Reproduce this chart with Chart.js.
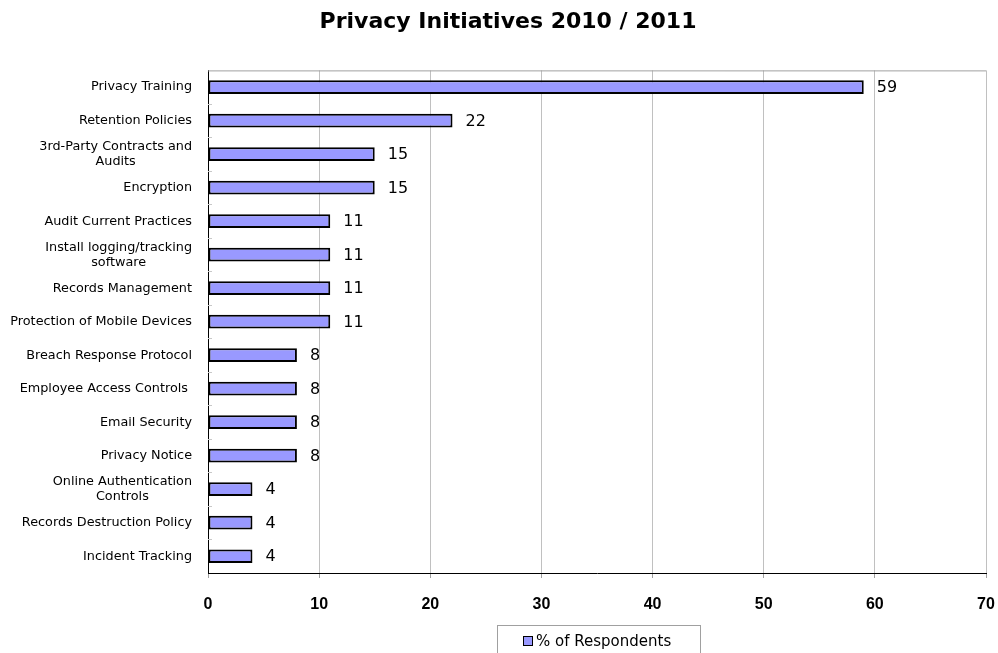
<!DOCTYPE html>
<html>
<head>
<meta charset="utf-8">
<script src="https://cdn.jsdelivr.net/npm/chart.js@4"></script>
<style>
  html, body { margin: 0; padding: 0; background: #fff; }
  canvas { display: block; }
</style>
</head>
<body>
<canvas id="chart" width="998" height="653"></canvas>
<script>
// Privacy initiatives - horizontal bar chart

const categories = [
  'Privacy Training',
  'Retention Policies',
  ['3rd-Party Contracts and', 'Audits'],
  'Encryption',
  'Audit Current Practices',
  ['Install logging/tracking', 'software'],
  'Records Management',
  'Protection of Mobile Devices',
  'Breach Response Protocol',
  'Employee Access Controls ',
  'Email Security',
  'Privacy Notice',
  ['Online Authentication', 'Controls'],
  'Records Destruction Policy',
  'Incident Tracking'
];
const respondents = [59, 22, 15, 15, 11, 11, 11, 11, 8, 8, 8, 8, 4, 4, 4];
const xTickValues = [0, 10, 20, 30, 40, 50, 60, 70];
const seriesName = '% of Respondents';

const barColor = '#9999FF';
const labelFont = '12.8px "DejaVu Sans", Verdana, sans-serif';

// category labels, lines centred on each other like the original
const categoryLabels = {
  id: 'categoryLabels',
  afterDraw(chart) {
    const { ctx } = chart;
    const yScale = chart.scales.y;
    const right = chart.chartArea.left - 16;
    ctx.save();
    ctx.font = labelFont;
    ctx.fillStyle = '#000';
    ctx.textAlign = 'center';
    ctx.textBaseline = 'middle';
    categories.forEach((label, i) => {
      const lines = Array.isArray(label) ? label : [label];
      const w = Math.max(...lines.map(l => ctx.measureText(l).width));
      const cx = right - w / 2;
      const y = yScale.getPixelForValue(i);
      const lh = 15;
      lines.forEach((line, j) => {
        ctx.fillText(line, cx, y + (j - (lines.length - 1) / 2) * lh);
      });
    });
    ctx.restore();
  }
};

// frame top edge and small inside ticks on the category axis
const plotFrame = {
  id: 'plotFrame',
  beforeDatasetsDraw(chart) {
    const { ctx, chartArea } = chart;
    const yScale = chart.scales.y;
    ctx.save();
    ctx.strokeStyle = '#A0A0A0';
    ctx.lineWidth = 1;
    ctx.beginPath();
    ctx.moveTo(chartArea.left, chartArea.top + 0.5);
    ctx.lineTo(chartArea.right, chartArea.top + 0.5);
    ctx.stroke();
    ctx.strokeStyle = '#C8C8C8';
    ctx.beginPath();
    for (let i = 1; i < categories.length; i++) {
      const y = Math.round((yScale.getPixelForValue(i - 1) + yScale.getPixelForValue(i)) / 2) + 0.5;
      ctx.moveTo(chartArea.left, y);
      ctx.lineTo(chartArea.left + 4, y);
    }
    ctx.stroke();
    ctx.restore();
  }
};

const valueLabels = {
  id: 'valueLabels',
  afterDatasetsDraw(chart) {
    const { ctx } = chart;
    const meta = chart.getDatasetMeta(0);
    ctx.save();
    ctx.font = '16px "DejaVu Sans", Verdana, sans-serif';
    ctx.fillStyle = '#000';
    ctx.textAlign = 'left';
    ctx.textBaseline = 'middle';
    meta.data.forEach((bar, i) => {
      ctx.fillText(respondents[i], bar.x + 13, bar.y + 1);
    });
    ctx.restore();
  }
};

const boxedLegend = {
  id: 'boxedLegend',
  afterDraw(chart) {
    const { ctx } = chart;
    ctx.save();
    ctx.strokeStyle = '#A0A0A0';
    ctx.lineWidth = 1;
    ctx.strokeRect(497.5, 625.5, 203, 40);
    ctx.fillStyle = barColor;
    ctx.fillRect(523, 636, 10, 10);
    ctx.strokeStyle = '#000';
    ctx.strokeRect(523.5, 636.5, 9, 9);
    ctx.fillStyle = '#000';
    ctx.font = '15px "DejaVu Sans", Verdana, sans-serif';
    ctx.textBaseline = 'middle';
    ctx.fillText(seriesName, 536, 642);
    ctx.restore();
  }
};

new Chart(document.getElementById('chart'), {
  type: 'bar',
  data: {
    labels: categories,
    datasets: [{
      label: seriesName,
      data: respondents,
      backgroundColor: barColor,
      borderColor: '#000',
      borderWidth: 2,
      borderSkipped: false,
      barPercentage: 0.41,
      categoryPercentage: 1
    }]
  },
  options: {
    indexAxis: 'y',
    responsive: false,
    animation: false,
    devicePixelRatio: 1,
    layout: { padding: { left: 30, right: 12, top: 0, bottom: 0 } },
    plugins: {
      legend: { display: false },
      tooltip: { enabled: false },
      title: {
        display: true,
        text: 'Privacy Initiatives 2010 / 2011',
        color: '#000',
        font: { family: '"DejaVu Sans", Verdana, sans-serif', size: 22, weight: 'bold' },
        padding: { top: 9, bottom: 35 }
      }
    },
    scales: {
      x: {
        min: 0,
        max: 70,
        afterBuildTicks: scale => { scale.ticks = xTickValues.map(v => ({ value: v })); },
        afterFit: scale => {
          scale.height = 80;
          scale.paddingLeft = 0;
          scale.paddingRight = 0;
        },
        ticks: {
          color: '#000',
          padding: 17,
          font: { family: '"Liberation Sans", Arial, sans-serif', size: 16, weight: 'bold' }
        },
        grid: { color: '#C0C0C0', tickColor: '#A0A0A0', tickLength: 5 },
        border: { color: '#000', width: 1 }
      },
      y: {
        afterFit: scale => { scale.width = 178; },
        ticks: { display: false },
        grid: { display: false },
        border: { color: '#000', width: 1 }
      }
    }
  },
  plugins: [plotFrame, valueLabels, categoryLabels, boxedLegend]
});
</script>
</body>
</html>
